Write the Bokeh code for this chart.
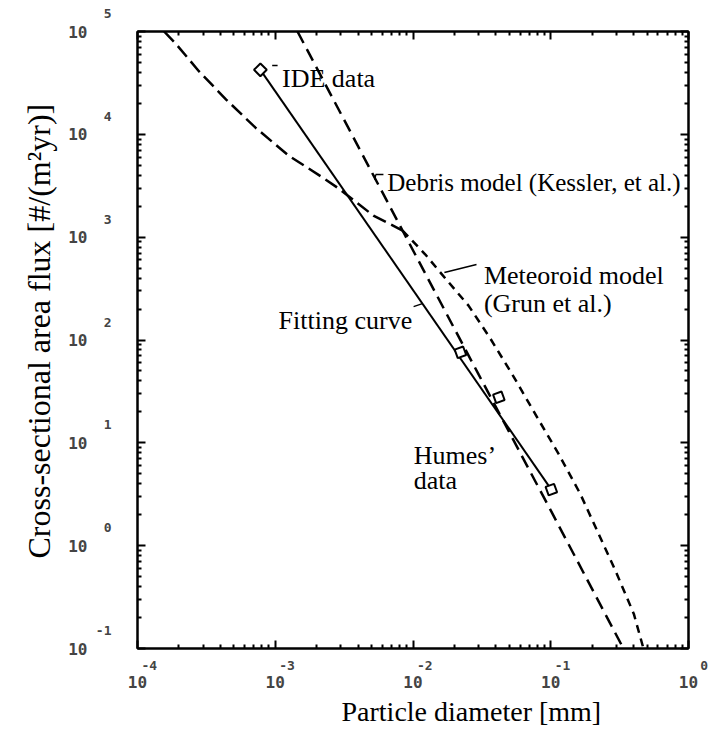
import numpy as np
from bokeh.plotting import figure
from bokeh.models import (FixedTicker, LogAxis, Label, Arrow, Title,
                          CustomJSTickFormatter)
from bokeh.embed import file_html
from bokeh.resources import INLINE

# ---------------- data ----------------
ide_d = [7.8e-4]
ide_f = [4.24e4]

humes_d = [0.0221, 0.0420, 0.101]
humes_f = [75.9, 27.7, 3.51]

fit_d = [7.8e-4, 0.101]
fit_f = [4.24e4, 3.51]

debris_d = [1.45e-3, 3.0e-3, 8.4e-3, 3.0e-2, 0.1, 0.337]
debris_f = [1.0e5, 1.58e4, 1.16e3, 46.0, 2.2, 0.1]

meteoroid_d = [1.56e-4, 1.90e-4, 2.79e-4, 4.40e-4, 7.19e-4, 1.25e-3, 2.19e-3,
               2.84e-3, 5.16e-3, 8.4e-3, 1.23e-2, 1.72e-2, 2.53e-2, 3.65e-2,
               5.37e-2, 7.97e-2, 0.114, 0.164, 0.217, 0.295, 0.401, 0.471]
meteoroid_f = [1.0e5, 7.59e4, 4.11e4, 2.18e4, 1.16e4, 6.22e3, 3.83e3,
               3.02e3, 1.62e3, 1.16e3, 678, 396, 216, 103,
               44.1, 17.7, 7.8, 3.18, 1.40, 0.571, 0.217, 0.1]

crossing_d = 8.4e-3

x_exponents = [-4, -3, -2, -1, 0]
y_exponents = [-1, 0, 1, 2, 3, 4, 5]

# ---------------- figure ----------------
p = figure(width=720, height=730, x_axis_type="log", y_axis_type="log",
           x_range=(1e-4, 1.0), y_range=(0.1, 1e5),
           output_backend="svg", toolbar_location=None,
           min_border_left=137, min_border_top=31,
           min_border_right=32, min_border_bottom=82)
p.xgrid.visible = False
p.ygrid.visible = False
p.outline_line_color = "black"
p.outline_line_width = 2
p.background_fill_color = "white"
p.border_fill_color = "white"

def minor_list(exps):
    out = []
    for e in exps[:-1]:
        out += [m * 10.0 ** e for m in range(2, 10)]
    return out

x_major = [10.0 ** e for e in x_exponents]
y_major = [10.0 ** e for e in y_exponents]
x_minor = minor_list(x_exponents)
y_minor = minor_list(y_exponents)

TF = "DejaVu Sans Mono"

def style_ticks(ax):
    ax.axis_line_color = "black"
    ax.axis_line_width = 2
    ax.major_tick_in = 8
    ax.major_tick_out = 0
    ax.minor_tick_in = 4
    ax.minor_tick_out = 0
    ax.major_tick_line_width = 2
    ax.minor_tick_line_width = 2
    ax.major_tick_line_color = "black"
    ax.minor_tick_line_color = "black"

def no_labels(ax):
    ax.major_label_text_font_size = "6px"
    ax.major_label_text_alpha = 0
    ax.major_label_standoff = 0

def bare(ax):
    ax.axis_line_color = None
    ax.major_tick_line_color = None
    ax.minor_tick_line_color = None
    ax.major_tick_in = 0
    ax.major_tick_out = 0
    ax.minor_tick_in = 0
    ax.minor_tick_out = 0

exp_x_code = ('const e = Math.round(Math.log10(tick)); const s = String(e);'
              'return "\\u00a0".repeat(5 - s.length) + s;')
exp_y_code = ('const e = Math.round(Math.log10(tick));'
              'return String(e) + "\\n\\u00a0\\n\\u00a0";')
ten_code = 'return "10";'

# bottom: exponents next to the frame, then the "10"s
xa = p.xaxis[0]
xa.ticker = FixedTicker(ticks=x_major, minor_ticks=x_minor)
xa.formatter = CustomJSTickFormatter(code=exp_x_code)
style_ticks(xa)
xa.major_label_text_font = TF
xa.major_label_text_font_style = "bold"
xa.major_label_text_font_size = "13px"
xa.major_label_standoff = 9

xb = LogAxis(ticker=FixedTicker(ticks=x_major),
             formatter=CustomJSTickFormatter(code=ten_code))
bare(xb)
xb.major_label_text_font = TF
xb.major_label_text_font_style = "bold"
xb.major_label_text_font_size = "16px"
xb.major_label_standoff = 0
p.add_layout(xb, "below")

# left: exponents next to the frame, then the "10"s
ya = p.yaxis[0]
ya.ticker = FixedTicker(ticks=y_major, minor_ticks=y_minor)
ya.formatter = CustomJSTickFormatter(code=exp_y_code)
style_ticks(ya)
ya.major_label_text_font = TF
ya.major_label_text_font_style = "bold"
ya.major_label_text_font_size = "13px"
ya.major_label_standoff = 26

yb = LogAxis(ticker=FixedTicker(ticks=y_major),
             formatter=CustomJSTickFormatter(code=ten_code))
bare(yb)
yb.major_label_text_font = TF
yb.major_label_text_font_style = "bold"
yb.major_label_text_font_size = "16px"
yb.major_label_standoff = 5
p.add_layout(yb, "left")

top_ax = LogAxis(ticker=FixedTicker(ticks=x_major, minor_ticks=x_minor))
right_ax = LogAxis(ticker=FixedTicker(ticks=y_major, minor_ticks=y_minor))
for ax in (top_ax, right_ax):
    style_ticks(ax)
    no_labels(ax)
p.add_layout(top_ax, "above")
p.add_layout(right_ax, "right")

# axis titles
SERIF = "Liberation Serif"
p.add_layout(Title(text="Particle diameter [mm]", align="left", offset=204,
                   standoff=6, text_font=SERIF, text_font_size="28px",
                   text_font_style="normal", text_color="black"), "below")
p.add_layout(Title(text="Cross-sectional area flux [#/(m\u00b2yr)]",
                   align="left", offset=90, standoff=18, text_font=SERIF,
                   text_font_size="32px", text_font_style="normal",
                   text_color="black"), "left")

# ---------------- curves ----------------
met_d = np.array(meteoroid_d)
met_f = np.array(meteoroid_f)
up = met_d <= crossing_d
lo = met_d >= crossing_d
p.line(met_d[up], met_f[up], line_color="black", line_width=2.5,
       line_dash="14 6")
p.line(met_d[lo], met_f[lo], line_color="black", line_width=2.5,
       line_dash="8 6")
p.line(debris_d, debris_f, line_color="black", line_width=2.5,
       line_dash="13 7")
p.line(fit_d, fit_f, line_color="black", line_width=2)

p.scatter(ide_d, ide_f, marker="square", size=9, angle=np.pi / 4,
          fill_color="white", line_color="black", line_width=2)
p.scatter(humes_d, humes_f, marker="square", size=9, angle=0.35,
          fill_color="white", line_color="black", line_width=2)

# ---------------- annotations ----------------
def note(x, y, text, align="left", size="26px"):
    p.add_layout(Label(x=x, y=y, text=text, text_font=SERIF,
                       text_font_size=size, text_align=align,
                       text_baseline="alphabetic", text_color="black"))

def leader(x0, y0, x1, y1):
    p.add_layout(Arrow(x_start=x0, y_start=y0, x_end=x1, y_end=y1,
                       end=None, line_color="black", line_width=1.5))

note(1.12e-3, 3.47e4, "IDE data")
leader(9.5e-4, 4.67e4, 1.04e-3, 4.67e4)

note(6.5e-3, 3.42e3, "Debris model (Kessler, et al.)", size="25px")
leader(6.1e-3, 4.06e3, 5.35e-3, 4.06e3)
leader(5.35e-3, 4.06e3, 5.3e-3, 3.6e3)

note(3.27e-2, 423, "Meteoroid model")
note(3.27e-2, 224, "(Grun et al.)")
leader(2.89e-2, 541, 1.69e-2, 453)

note(9.87e-3, 154, "Fitting curve", align="right")
leader(1.01e-2, 211, 1.17e-2, 226)

note(1.013e-2, 7.51, "Humes\u2019")
note(1.013e-2, 4.29, "data")

open("out.html", "w").write(file_html(p, INLINE))
